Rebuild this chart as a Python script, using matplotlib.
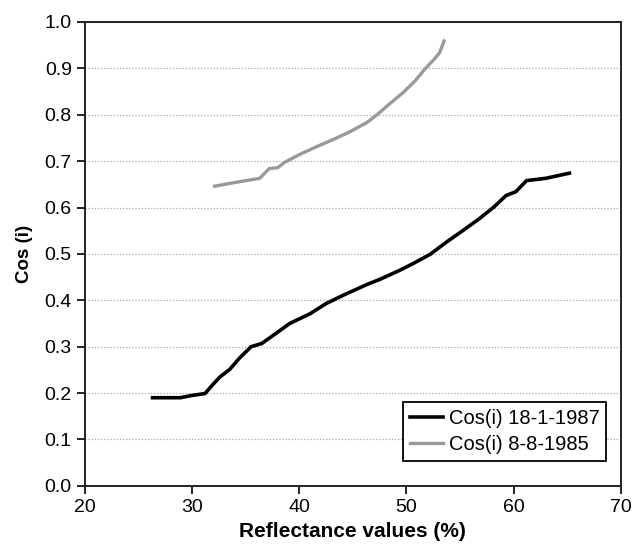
import matplotlib.pyplot as plt

plt.rcParams['font.family'] = ['Liberation Sans', 'DejaVu Sans']

# Cos(i) 18-1-1987 (black)
refl_1987 = [26.3, 28.9, 30.0, 31.2, 31.8, 32.6, 33.5, 34.4, 35.5, 36.5, 37.9, 39.1,
             41.0, 42.5, 44.1, 46.3, 47.5, 49.4, 50.6, 52.2, 53.7, 55.3, 56.8, 58.1,
             59.3, 60.2, 61.2, 63.0, 65.2]
cos_1987 = [0.190, 0.190, 0.195, 0.199, 0.215, 0.235, 0.251, 0.275, 0.300, 0.307, 0.330, 0.350,
            0.371, 0.393, 0.411, 0.434, 0.445, 0.465, 0.479, 0.499, 0.525, 0.551, 0.576, 0.600,
            0.626, 0.634, 0.658, 0.663, 0.674]

# Cos(i) 8-8-1985 (grey)
refl_1985 = [32.1, 34.0, 36.3, 37.2, 38.0, 38.6, 40.0, 41.6, 43.1, 44.6, 46.3, 47.3,
             48.4, 49.7, 50.8, 51.7, 52.6, 53.1, 53.5]
cos_1985 = [0.646, 0.654, 0.663, 0.684, 0.686, 0.697, 0.714, 0.731, 0.746, 0.762, 0.783, 0.801,
            0.823, 0.848, 0.873, 0.898, 0.920, 0.934, 0.959]

fig = plt.figure(figsize=(6.44, 5.49), dpi=100)
ax = fig.add_axes([0.132, 0.115, 0.832, 0.845])

ax.plot(refl_1987, cos_1987, color='black', lw=2.6, label='Cos(i) 18-1-1987', zorder=3)
ax.plot(refl_1985, cos_1985, color='#999999', lw=2.4, label='Cos(i) 8-8-1985', zorder=3)

ax.set_xlim(20, 70)
ax.set_ylim(0, 1.0)
ax.set_xticks(range(20, 71, 10))
ax.set_yticks([i / 10 for i in range(11)])
ax.set_yticklabels([f'{i / 10:.1f}' for i in range(11)])
ax.grid(axis='y', color='#aaaaaa', linestyle=(0, (1, 1.5)), lw=0.9)
ax.set_axisbelow(True)

for s in ax.spines.values():
    s.set_linewidth(1.4)
    s.set_color('#222222')
ax.tick_params(direction='out', length=6, width=1.4, labelsize=14, color='#222222')

ax.set_xlabel('Reflectance values (%)', fontsize=15, fontweight='bold', labelpad=4)
ax.set_ylabel('Cos (i)', fontsize=13.5, fontweight='bold', labelpad=8)

leg = ax.legend(loc='lower right', bbox_to_anchor=(0.973, 0.054), fontsize=14.5,
                fancybox=False, edgecolor='black', framealpha=1, handlelength=1.6,
                handletextpad=0.3, borderpad=0.35, labelspacing=0.35, borderaxespad=0)
leg.get_frame().set_linewidth(1.3)

fig.savefig('out.png', dpi=100)
